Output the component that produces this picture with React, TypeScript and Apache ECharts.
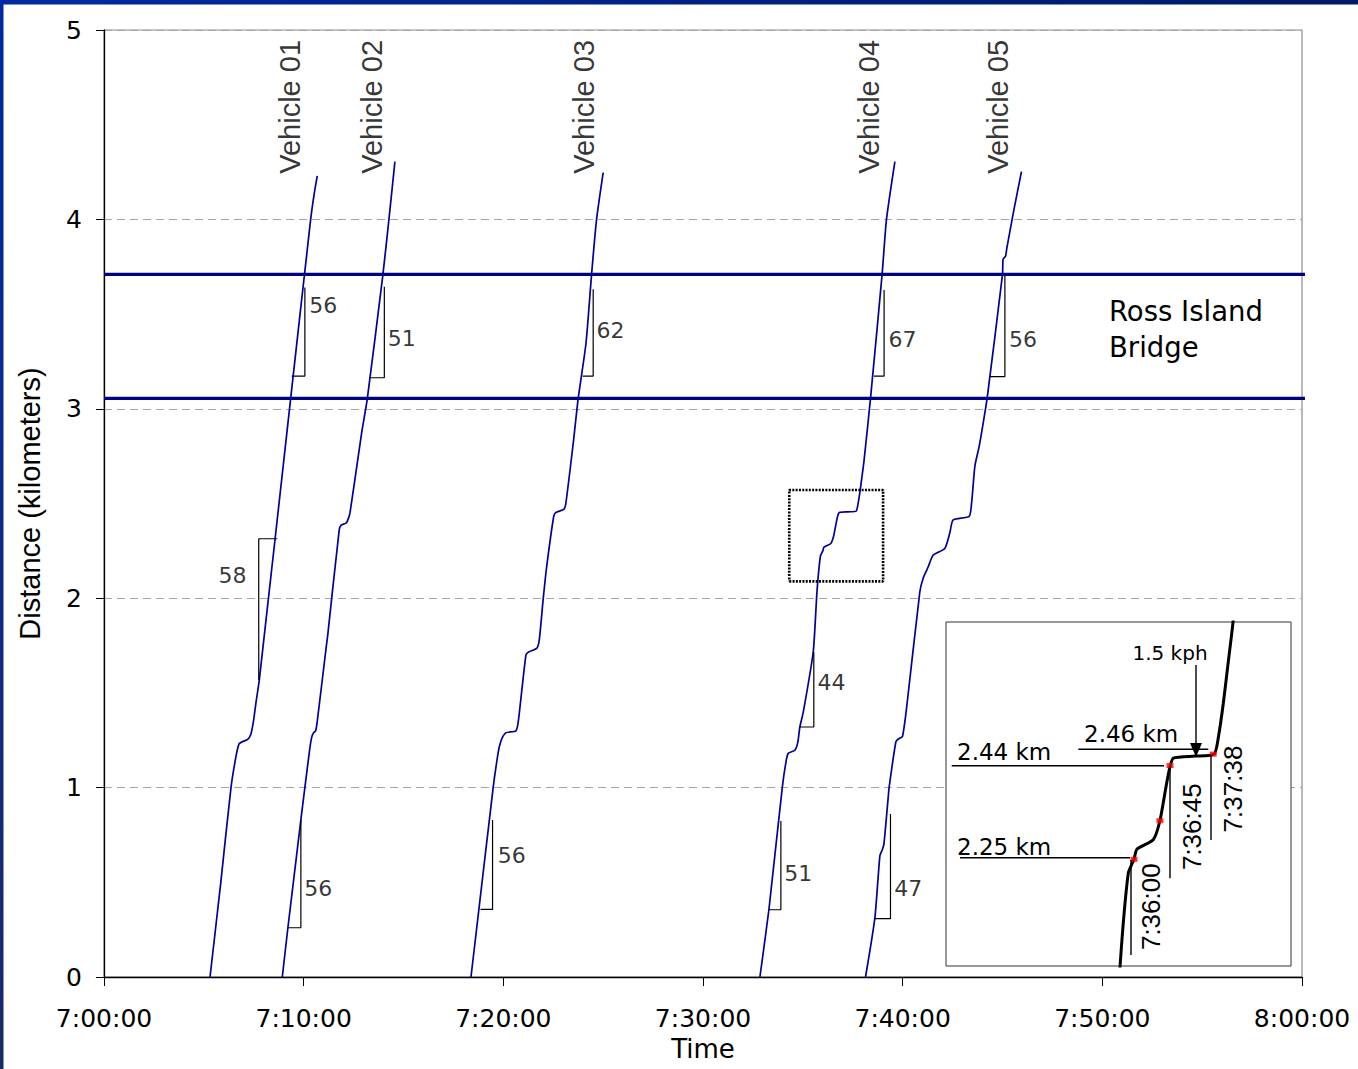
import React, { useEffect, useRef } from "react";
import * as echarts from "echarts";

// ---- axes ----
const xTickMinutes = [0, 10, 20, 30, 40, 50, 60]; // minutes after 7:00:00
const yMaxKm = 5;

// ---- Ross Island Bridge limits (km) ----
const bridgeKm = [3.055, 3.71];

// ---- vehicle trajectories: [minutes after 7:00, km] ----
const vehicle01: number[][] = [
  [5.31, 0], [5.85, 0.5], [6.36, 1.0], [6.62, 1.17], [6.77, 1.232], [6.95, 1.243], [7.2, 1.255],
  [7.35, 1.28], [7.47, 1.34], [7.6, 1.44], [7.78, 1.57], [9.35, 3.055], [10.35, 4.0], [10.52, 4.13], [10.68, 4.23],
];
const vehicle02: number[][] = [
  [8.93, 0], [9.21, 0.26], [9.86, 0.83], [10.06, 1.0], [10.3, 1.2], [10.4, 1.265], [10.5, 1.29], [10.6, 1.3],
  [10.68, 1.35], [11.15, 1.76], [11.2, 1.8], [11.78, 2.36], [11.88, 2.386], [12.1, 2.395], [12.2, 2.41],
  [12.32, 2.45], [12.9, 2.87], [13.19, 3.055], [13.97, 3.71], [14.27, 4.0], [14.57, 4.305],
];
const vehicle03: number[][] = [
  [18.38, 0], [19.49, 1.0], [19.62, 1.1], [19.75, 1.19], [19.85, 1.235], [19.98, 1.27], [20.13, 1.29],
  [20.63, 1.3], [20.75, 1.35], [21.13, 1.7], [21.25, 1.715], [21.67, 1.735], [21.8, 1.78], [22.0, 2.0],
  [22.17, 2.166], [22.52, 2.43], [22.62, 2.452], [23.03, 2.469], [23.13, 2.5], [23.5, 2.818], [23.75, 3.055],
  [24.14, 3.346], [24.42, 3.71], [24.67, 4.0], [25.0, 4.247],
];
const vehicle04: number[][] = [
  [32.85, 0], [33.3, 0.355], [33.97, 1.0], [34.18, 1.15], [34.28, 1.182], [34.6, 1.197], [34.75, 1.24],
  [34.85, 1.32], [35.02, 1.397], [35.52, 1.716], [35.71, 2.037], [35.88, 2.222], [36.0, 2.25],
  [36.06, 2.27], [36.4, 2.289], [36.54, 2.327], [36.68, 2.402], [36.75, 2.435], [36.82, 2.452],
  [37.27, 2.456], [37.67, 2.46], [37.76, 2.495], [37.86, 2.561], [37.96, 2.641], [38.06, 2.721],
  [38.39, 3.055], [38.97, 3.71], [39.19, 4.0], [39.61, 4.305],
];
const vehicle05: number[][] = [
  [38.14, 0], [38.61, 0.314], [38.86, 0.641], [38.98, 0.672], [39.06, 0.7], [39.27, 0.942], [39.32, 1.0],
  [39.66, 1.242], [39.8, 1.258], [39.99, 1.27], [40.19, 1.415], [40.86, 2.034], [41.03, 2.107],
  [41.28, 2.166], [41.53, 2.228], [42.11, 2.263], [42.36, 2.344], [42.53, 2.413], [43.33, 2.432],
  [43.45, 2.5], [43.62, 2.7], [43.83, 2.8], [44.03, 2.923], [44.23, 3.055], [45.0, 3.71], [45.03, 3.79],
  [45.15, 3.805], [45.22, 3.85], [45.57, 4.05], [45.95, 4.252],
];
const vehicles = [vehicle01, vehicle02, vehicle03, vehicle04, vehicle05];
const vehicleNames = ["Vehicle 01", "Vehicle 02", "Vehicle 03", "Vehicle 04", "Vehicle 05"];
const vehicleLabelAt: number[][] = [[9.31, 4.594], [13.42, 4.594], [24.04, 4.594], [38.31, 4.594], [44.77, 4.594]];

// ---- speed brackets (polylines in data coords) and their kph labels ----
const brackets: number[][][] = [
  [[9.40, 3.173], [10.06, 3.173], [10.06, 3.641]],
  [[13.27, 3.164], [14.04, 3.164], [14.04, 3.645]],
  [[23.97, 3.173], [24.50, 3.173], [24.50, 3.631]],
  [[38.56, 3.173], [39.07, 3.173], [39.07, 3.627]],
  [[44.37, 3.170], [45.12, 3.170], [45.12, 3.715]],
  [[8.68, 2.314], [7.75, 2.314], [7.75, 1.568]],
  [[9.23, 0.26], [9.86, 0.26], [9.86, 0.829]],
  [[18.86, 0.357], [19.46, 0.357], [19.46, 0.829]],
  [[34.85, 1.32], [35.55, 1.32], [35.55, 1.716]],
  [[33.30, 0.355], [33.90, 0.355], [33.90, 0.824]],
  [[38.56, 0.308], [39.39, 0.308], [39.39, 0.86]],
];
const speedLabels: (number | string)[][] = [
  [10.98, 3.543, "56"], [14.91, 3.372, "51"], [25.37, 3.416, "62"], [39.99, 3.367, "67"], [46.03, 3.367, "56"],
  [6.44, 2.122, "58"], [10.73, 0.468, "56"], [20.42, 0.64, "56"], [36.44, 1.557, "44"], [34.77, 0.545, "51"],
  [40.28, 0.468, "47"],
];

// ---- zoom window on Vehicle 04 and the inset ----
const zoomBox: number[][] = [[34.32, 2.089], [39.02, 2.089], [39.02, 2.571], [34.32, 2.571], [34.32, 2.089]];
const insetRangeX = [32.0833, 39.2708];
const insetRangeY = [2.037, 2.7237];
const insetMarkers: number[][] = [[36.0, 2.25], [36.54, 2.327], [36.75, 2.437], [37.65, 2.46]];

const H_FONT = "DejaVu Sans";
const V_FONT = "Liberation Sans";

function fmtTime(v: number) {
  const h = 7 + Math.floor(v / 60);
  const m = v % 60;
  return `${h}:${String(m).padStart(2, "0")}:00`;
}

export default function App() {
  const ref = useRef<HTMLDivElement>(null);
  useEffect(() => {
    if (!ref.current) return;
    const chart = echarts.init(ref.current, undefined, { renderer: "svg" });
    const navy = "#00009a";

    const series: any[] = [];
    vehicles.forEach((d, i) => {
      series.push({
        type: "line", name: vehicleNames[i], xAxisIndex: 0, yAxisIndex: 0, data: d,
        smooth: 0.2, symbol: "none", lineStyle: { color: navy, width: 1.7 }, silent: true, z: 3,
      });
    });
    bridgeKm.forEach((km) => {
      series.push({
        type: "line", xAxisIndex: 0, yAxisIndex: 0, data: [[0, km], [60.25, km]], clip: false,
        symbol: "none", lineStyle: { color: "#000080", width: 3.2 }, silent: true, z: 4,
      });
    });
    brackets.forEach((b) => {
      series.push({
        type: "line", xAxisIndex: 0, yAxisIndex: 0, data: b, symbol: "none",
        lineStyle: { color: "#000", width: 1.2 }, silent: true, z: 3,
      });
    });
    series.push({
      type: "line", xAxisIndex: 0, yAxisIndex: 0, data: zoomBox, symbol: "none",
      lineStyle: { color: "#000", width: 2.6, type: [2, 1.3] }, silent: true, z: 3,
    });
    series.push({
      type: "scatter", xAxisIndex: 0, yAxisIndex: 0, data: speedLabels, symbolSize: 0, silent: true, z: 5,
      label: {
        show: true, position: "inside", formatter: (p: any) => p.value[2],
        fontFamily: H_FONT, fontSize: 22, color: "#000",
      },
    });
    series.push({
      type: "scatter", xAxisIndex: 0, yAxisIndex: 0,
      data: vehicleLabelAt.map((p, i) => [p[0], p[1], vehicleNames[i]]), symbolSize: 0, silent: true, z: 5,
      label: {
        show: true, position: "inside", rotate: 90, formatter: (p: any) => p.value[2],
        fontFamily: V_FONT, fontSize: 29, color: "#000",
      },
    });
    // inset
    series.push({
      type: "line", xAxisIndex: 1, yAxisIndex: 1, data: vehicle04, smooth: 0.2, symbol: "none",
      lineStyle: { color: "#000", width: 3 }, silent: true, z: 6, clip: true,
    });
    series.push({
      type: "scatter", xAxisIndex: 1, yAxisIndex: 1, data: insetMarkers, symbol: "rect",
      symbolSize: [7, 5], itemStyle: { color: "#ff0000" }, silent: true, z: 7,
    });

    const txt = (text: string, x: number, y: number, size: number, opts: any = {}) => ({
      type: "text", x, y, z: 20, rotation: opts.rotation || 0,
      style: {
        text, fontFamily: opts.font || H_FONT, fontSize: size, fill: "#000",
        align: opts.align || "left", verticalAlign: "middle",
      },
    });
    const ln = (x1: number, y1: number, x2: number, y2: number) => ({
      type: "line", z: 20, shape: { x1, y1, x2, y2 }, style: { stroke: "#000", lineWidth: 1.4 },
    });

    const graphic: any[] = [
      {
        type: "rect", z: 50, shape: { x: 0, y: 0, width: 1358, height: 4.5 },
        style: { fill: new echarts.graphic.LinearGradient(0, 0, 1, 0, [
          { offset: 0, color: "#0029a3" }, { offset: 1, color: "#001a66" }]) },
      },
      {
        type: "rect", z: 50, shape: { x: 0, y: 0, width: 3.5, height: 1069 },
        style: { fill: new echarts.graphic.LinearGradient(0, 0, 0, 1, [
          { offset: 0, color: "#0029a3" }, { offset: 1, color: "#1a2a6a" }]) },
      },
      {
        type: "rect", z: 1, shape: { x: 946, y: 622, width: 345, height: 344 },
        style: { fill: "#fff", stroke: "#333", lineWidth: 1 },
      },
      txt("Ross Island", 1109, 311, 27.5),
      txt("Bridge", 1109, 347, 27.5),
      // inset annotations
      ln(951.7, 765.7, 1164, 765.7),
      ln(1078.3, 749.3, 1208.3, 749.3),
      ln(960, 857.7, 1130, 857.7),
      ln(1131, 860, 1131, 955),
      ln(1170, 766, 1170, 878.3),
      ln(1211, 755, 1211, 840),
      ln(1196, 665, 1196, 745),
      {
        type: "polygon", z: 20, shape: { points: [[1190, 743], [1202, 743], [1196, 757]] },
        style: { fill: "#000" },
      },
      txt("2.44 km", 957, 752, 23),
      txt("2.46 km", 1084, 734, 23),
      txt("2.25 km", 957, 846.7, 23),
      txt("1.5 kph", 1170, 652.7, 20, { align: "center" }),
      txt("7:36:00", 1150.7, 906.7, 26, { align: "center", rotation: Math.PI / 2, font: V_FONT }),
      txt("7:36:45", 1191.7, 826.7, 26, { align: "center", rotation: Math.PI / 2, font: V_FONT }),
      txt("7:37:38", 1233.3, 789, 26, { align: "center", rotation: Math.PI / 2, font: V_FONT }),
    ];

    chart.setOption({
      animation: false,
      backgroundColor: "#fff",
      grid: [
        { left: 104, right: 56, top: 30, bottom: 92, show: true, borderColor: "#8c8c8c", borderWidth: 1.2 },
        { left: 946, top: 622, width: 345, height: 344, show: false },
      ],
      xAxis: [
        {
          type: "value", gridIndex: 0, min: xTickMinutes[0], max: xTickMinutes[xTickMinutes.length - 1], interval: 10,
          name: "Time", nameLocation: "middle", nameGap: 57,
          nameTextStyle: { fontFamily: H_FONT, fontSize: 26, color: "#000" },
          axisLine: { lineStyle: { color: "#000", width: 1.3 } },
          axisTick: { show: true, length: 9, lineStyle: { color: "#000" } },
          axisLabel: { formatter: fmtTime, fontFamily: H_FONT, fontSize: 25, color: "#000", margin: 29 },
          splitLine: { show: false },
        },
        { type: "value", gridIndex: 1, min: insetRangeX[0], max: insetRangeX[1], show: false, splitLine: { show: false } },
      ],
      yAxis: [
        {
          type: "value", gridIndex: 0, min: 0, max: yMaxKm, interval: 1,
          name: "Distance (kilometers)", nameLocation: "middle", nameGap: 60,
          nameTextStyle: { fontFamily: V_FONT, fontSize: 29, color: "#000" },
          axisLine: { show: true, lineStyle: { color: "#000", width: 1.3 } },
          axisTick: { show: true, length: 8, lineStyle: { color: "#000" } },
          axisLabel: { fontFamily: H_FONT, fontSize: 25, color: "#000", margin: 22 },
          splitLine: { show: true, lineStyle: { color: "#a6a6a6", width: 1, type: [8, 5] } },
        },
        { type: "value", gridIndex: 1, min: insetRangeY[0], max: insetRangeY[1], show: false, splitLine: { show: false } },
      ],
      series,
      graphic,
    });
    return () => chart.dispose();
  }, []);
  return (
    <div
      ref={ref}
      style={{ position: "absolute", left: 0, top: 0, width: 1358, height: 1069, background: "#fff" }}
    />
  );
}
